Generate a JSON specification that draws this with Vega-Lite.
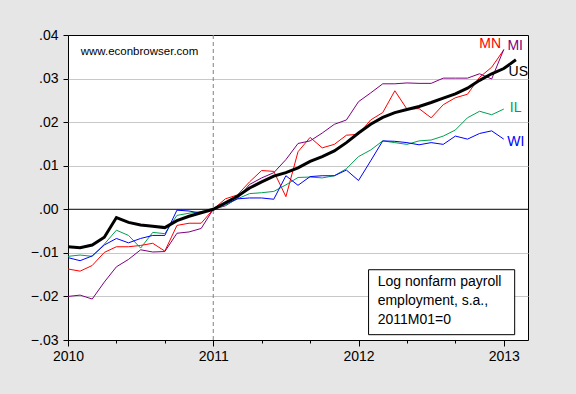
{
  "$schema": "https://vega.github.io/schema/vega-lite/v6.json",
  "width": 460,
  "height": 305,
  "autosize": "none",
  "padding": {"left": 68, "top": 35, "right": 48, "bottom": 54},
  "background": "#e6e6e6",
  "config": {
    "view": {"fill": "white", "stroke": "black", "strokeWidth": 1},
    "font": "Liberation Sans"
  },
  "datasets": {
    "emp": [
      {"m": 0, "US": -0.0086, "MN": -0.0137, "MI": -0.0200, "IL": -0.0108, "WI": -0.0111},
      {"m": 1, "US": -0.0088, "MN": -0.0142, "MI": -0.0197, "IL": -0.0105, "WI": -0.0118},
      {"m": 2, "US": -0.0082, "MN": -0.0129, "MI": -0.0206, "IL": -0.0108, "WI": -0.0107},
      {"m": 3, "US": -0.0064, "MN": -0.0099, "MI": -0.0167, "IL": -0.0080, "WI": -0.0082},
      {"m": 4, "US": -0.0019, "MN": -0.0086, "MI": -0.0132, "IL": -0.0048, "WI": -0.0067},
      {"m": 5, "US": -0.0030, "MN": -0.0086, "MI": -0.0115, "IL": -0.0060, "WI": -0.0077},
      {"m": 6, "US": -0.0036, "MN": -0.0083, "MI": -0.0093, "IL": -0.0089, "WI": -0.0067},
      {"m": 7, "US": -0.0039, "MN": -0.0078, "MI": -0.0098, "IL": -0.0053, "WI": -0.0060},
      {"m": 8, "US": -0.0042, "MN": -0.0096, "MI": -0.0097, "IL": -0.0056, "WI": -0.0060},
      {"m": 9, "US": -0.0026, "MN": -0.0037, "MI": -0.0055, "IL": -0.0014, "WI": -0.0002},
      {"m": 10, "US": -0.0016, "MN": -0.0032, "MI": -0.0052, "IL": -0.0009, "WI": -0.0004},
      {"m": 11, "US": -0.0008, "MN": -0.0032, "MI": -0.0044, "IL": -0.0005, "WI": -0.0009},
      {"m": 12, "US": 0, "MN": 0, "MI": 0, "IL": 0, "WI": 0},
      {"m": 13, "US": 0.0015, "MN": 0.0024, "MI": 0.0008, "IL": 0.0010, "WI": 0.0012},
      {"m": 14, "US": 0.0030, "MN": 0.0033, "MI": 0.0025, "IL": 0.0024, "WI": 0.0024},
      {"m": 15, "US": 0.0049, "MN": 0.0063, "MI": 0.0057, "IL": 0.0036, "WI": 0.0026},
      {"m": 16, "US": 0.0063, "MN": 0.0089, "MI": 0.0072, "IL": 0.0038, "WI": 0.0026},
      {"m": 17, "US": 0.0076, "MN": 0.0087, "MI": 0.0084, "IL": 0.0041, "WI": 0.0023},
      {"m": 18, "US": 0.0084, "MN": 0.0029, "MI": 0.0114, "IL": 0.0056, "WI": 0.0077},
      {"m": 19, "US": 0.0095, "MN": 0.0132, "MI": 0.0151, "IL": 0.0073, "WI": 0.0055},
      {"m": 20, "US": 0.0110, "MN": 0.0165, "MI": 0.0157, "IL": 0.0074, "WI": 0.0075},
      {"m": 21, "US": 0.0121, "MN": 0.0141, "MI": 0.0175, "IL": 0.0072, "WI": 0.0077},
      {"m": 22, "US": 0.0134, "MN": 0.0149, "MI": 0.0195, "IL": 0.0077, "WI": 0.0077},
      {"m": 23, "US": 0.0153, "MN": 0.0170, "MI": 0.0205, "IL": 0.0093, "WI": 0.0090},
      {"m": 24, "US": 0.0175, "MN": 0.0172, "MI": 0.0247, "IL": 0.0121, "WI": 0.0066},
      {"m": 25, "US": 0.0195, "MN": 0.0205, "MI": 0.0267, "IL": 0.0136, "WI": 0.0111},
      {"m": 26, "US": 0.0211, "MN": 0.0222, "MI": 0.0288, "IL": 0.0157, "WI": 0.0157},
      {"m": 27, "US": 0.0222, "MN": 0.0272, "MI": 0.0288, "IL": 0.0153, "WI": 0.0156},
      {"m": 28, "US": 0.0229, "MN": 0.0230, "MI": 0.0290, "IL": 0.0149, "WI": 0.0153},
      {"m": 29, "US": 0.0236, "MN": 0.0231, "MI": 0.0289, "IL": 0.0157, "WI": 0.0148},
      {"m": 30, "US": 0.0245, "MN": 0.0210, "MI": 0.0289, "IL": 0.0159, "WI": 0.0153},
      {"m": 31, "US": 0.0255, "MN": 0.0240, "MI": 0.0301, "IL": 0.0168, "WI": 0.0149},
      {"m": 32, "US": 0.0265, "MN": 0.0256, "MI": 0.0301, "IL": 0.0182, "WI": 0.0168},
      {"m": 33, "US": 0.0278, "MN": 0.0264, "MI": 0.0301, "IL": 0.0210, "WI": 0.0161},
      {"m": 34, "US": 0.0296, "MN": 0.0303, "MI": 0.0311, "IL": 0.0225, "WI": 0.0174},
      {"m": 35, "US": 0.0311, "MN": 0.0326, "MI": 0.0299, "IL": 0.0217, "WI": 0.0180},
      {"m": 36, "US": 0.0323, "MN": 0.0366, "MI": 0.0367, "IL": 0.0230, "WI": 0.0161},
      {"m": 37, "US": 0.0343}
    ],
    "one": [{}]
  },
  "layer": [
    {
      "data": {"name": "emp"},
      "transform": [
        {"fold": ["MN", "MI", "IL", "WI"], "as": ["s", "v"]},
        {"filter": "isValid(datum.v)"}
      ],
      "mark": {"type": "line", "strokeWidth": 1, "interpolate": "linear"},
      "encoding": {
        "x": {
          "field": "m", "type": "quantitative",
          "scale": {"domain": [0, 38], "nice": false, "zero": false},
          "axis": {
            "values": [0,1,2,3,4,5,6,7,8,9,10,11,12,13,14,15,16,17,18,19,20,21,22,23,24,25,26,27,28,29,30,31,32,33,34,35,36,37,38],
            "labelExpr": "datum.value % 12 === 0 ? '' + (2010 + datum.value / 12) : ''",
            "title": null, "grid": false, "domain": false,
            "tickColor": "black",
            "tickSize": {"condition": {"test": "datum.value % 12 === 0", "value": 6}, "value": 3},
            "labelFontSize": 14, "labelColor": "black", "labelFont": "Liberation Sans",
            "labelPadding": 3, "labelOverlap": false, "labelFlush": false, "labelBound": false
          }
        },
        "y": {
          "field": "v", "type": "quantitative",
          "scale": {"domain": [-0.03, 0.04], "nice": false, "zero": false},
          "axis": {
            "values": [-0.03, -0.02, -0.01, 0, 0.01, 0.02, 0.03, 0.04],
            "labelExpr": "replace(format(datum.value, '.2f'), '0.', '.')",
            "title": null, "domain": false, "grid": true,
            "gridColor": {"condition": {"test": "datum.value < -0.025 || datum.value > 0.035 || abs(datum.value) < 0.001", "value": "transparent"}, "value": "#c8c8c8"},
            "tickColor": "black", "tickSize": 5,
            "labelFontSize": 14, "labelColor": "black", "labelFont": "Liberation Sans",
            "labelPadding": 5, "labelOverlap": false
          }
        },
        "color": {
          "field": "s", "type": "nominal",
          "scale": {"domain": ["US", "MN", "MI", "IL", "WI"], "range": ["#000000", "#ff0000", "#800080", "#00a050", "#0000ff"]},
          "legend": null
        },
        "detail": {"field": "s"}
      }
    },
    {
      "data": {"name": "one"},
      "mark": {"type": "rule", "color": "black", "strokeWidth": 1},
      "encoding": {
        "y": {"datum": 0, "type": "quantitative"}
      }
    },
    {
      "data": {"name": "one"},
      "mark": {"type": "rule", "color": "#808080", "strokeWidth": 1, "strokeDash": [4, 3]},
      "encoding": {
        "x": {"datum": 12, "type": "quantitative"}
      }
    },
    {
      "data": {"name": "emp"},
      "transform": [{"filter": "isValid(datum.US)"}],
      "mark": {"type": "line", "strokeWidth": 3, "color": "black"},
      "encoding": {
        "x": {"field": "m", "type": "quantitative"},
        "y": {"field": "US", "type": "quantitative"}
      }
    },
    {
      "data": {"name": "one"},
      "mark": {"type": "text", "text": "MN", "color": "#ff0000", "fontSize": 14, "align": "center", "baseline": "middle"},
      "encoding": {"x": {"datum": 34.87, "type": "quantitative"}, "y": {"datum": 0.0380, "type": "quantitative"}}
    },
    {
      "data": {"name": "one"},
      "mark": {"type": "text", "text": "MI", "color": "#800080", "fontSize": 14, "align": "center", "baseline": "middle"},
      "encoding": {"x": {"datum": 36.94, "type": "quantitative"}, "y": {"datum": 0.0375, "type": "quantitative"}}
    },
    {
      "data": {"name": "one"},
      "mark": {"type": "text", "text": "US", "color": "#000000", "fontSize": 14, "align": "center", "baseline": "middle"},
      "encoding": {"x": {"datum": 37.2, "type": "quantitative"}, "y": {"datum": 0.0315, "type": "quantitative"}}
    },
    {
      "data": {"name": "one"},
      "mark": {"type": "text", "text": "IL", "color": "#00a050", "fontSize": 14, "align": "center", "baseline": "middle"},
      "encoding": {"x": {"datum": 36.98, "type": "quantitative"}, "y": {"datum": 0.0233, "type": "quantitative"}}
    },
    {
      "data": {"name": "one"},
      "mark": {"type": "text", "text": "WI", "color": "#0000ff", "fontSize": 14, "align": "center", "baseline": "middle"},
      "encoding": {"x": {"datum": 37.0, "type": "quantitative"}, "y": {"datum": 0.0155, "type": "quantitative"}}
    },
    {
      "data": {"name": "one"},
      "mark": {"type": "text", "text": "www.econbrowser.com", "color": "black", "fontSize": 11.5, "align": "left", "baseline": "middle"},
      "encoding": {"x": {"datum": 1.05, "type": "quantitative"}, "y": {"datum": 0.0361, "type": "quantitative"}}
    },
    {
      "data": {"name": "one"},
      "mark": {"type": "rect", "fill": "white", "stroke": "black", "strokeWidth": 1},
      "encoding": {
        "x": {"datum": 24.83, "type": "quantitative"},
        "x2": {"datum": 36.9},
        "y": {"datum": -0.01387, "type": "quantitative"},
        "y2": {"datum": -0.02878}
      }
    },
    {
      "data": {"name": "one"},
      "mark": {"type": "text", "text": ["Log nonfarm payroll", "employment, s.a.,", "2011M01=0"], "lineHeight": 19, "color": "black", "fontSize": 14, "align": "left", "baseline": "middle"},
      "encoding": {"x": {"datum": 25.58, "type": "quantitative"}, "y": {"datum": -0.01679, "type": "quantitative"}}
    }
  ]
}
